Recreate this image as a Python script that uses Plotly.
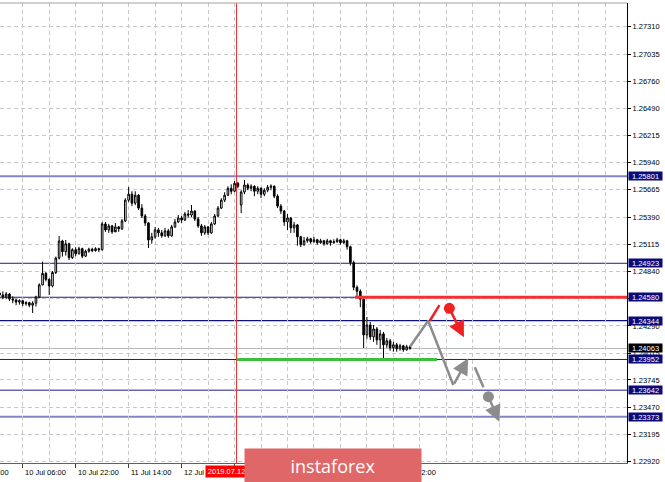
import plotly.graph_objects as go

# ---------------- data ----------------
bars = list(range(-7, 118))  # hourly bars, 0 = 10 Jul 06:00

opens = [1.24623, 1.24603, 1.24583, 1.24613, 1.24563, 1.24552, 1.24532,
         1.24545, 1.24515, 1.24525, 1.24500, 1.24520, 1.24583, 1.24705, 1.24820, 1.24760,
         1.24694, 1.24830, 1.24976, 1.25148, 1.25040, 1.25120, 1.24980, 1.25060, 1.25020,
         1.25070, 1.24995, 1.25045, 1.25065, 1.25050, 1.25070, 1.25060, 1.25320, 1.25260,
         1.25300, 1.25240, 1.25290, 1.25270, 1.25350, 1.25560, 1.25620, 1.25530, 1.25610,
         1.25480, 1.25400, 1.25330, 1.25158, 1.25190, 1.25260, 1.25230, 1.25200, 1.25250,
         1.25200, 1.25290, 1.25340, 1.25380, 1.25360, 1.25420, 1.25410, 1.25450, 1.25370,
         1.25300, 1.25230, 1.25290, 1.25230, 1.25320, 1.25400, 1.25480, 1.25560, 1.25610,
         1.25680, 1.25650, 1.25730, 1.25511, 1.25642, 1.25713, 1.25680, 1.25700, 1.25650,
         1.25680, 1.25620, 1.25660, 1.25690, 1.25700, 1.25600, 1.25500, 1.25450, 1.25340,
         1.25380, 1.25280, 1.25310, 1.25190, 1.25110, 1.25150, 1.25170, 1.25140, 1.25160,
         1.25130, 1.25150, 1.25120, 1.25150, 1.25130, 1.25140, 1.25160, 1.25130, 1.25150,
         1.25090, 1.24930, 1.24680, 1.24640, 1.24560, 1.24200, 1.24300, 1.24180, 1.24260,
         1.24150, 1.24210, 1.24100, 1.24140, 1.24070, 1.24100, 1.24060, 1.24090, 1.24050,
         1.24080]

highs = [1.24653, 1.24640, 1.24633, 1.24623, 1.24590, 1.24565, 1.24560,
         1.24550, 1.24540, 1.24535, 1.24540, 1.24595, 1.24720, 1.24939, 1.24835, 1.24770,
         1.24845, 1.24990, 1.25198, 1.25160, 1.25158, 1.25130, 1.25075, 1.25085, 1.25090,
         1.25080, 1.25060, 1.25080, 1.25080, 1.25085, 1.25080, 1.25340, 1.25340, 1.25320,
         1.25310, 1.25330, 1.25300, 1.25370, 1.25580, 1.25693, 1.25650, 1.25650, 1.25620,
         1.25520, 1.25420, 1.25340, 1.25230, 1.25290, 1.25280, 1.25260, 1.25280, 1.25270,
         1.25310, 1.25370, 1.25410, 1.25400, 1.25440, 1.25460, 1.25511, 1.25460, 1.25390,
         1.25320, 1.25310, 1.25300, 1.25340, 1.25420, 1.25500, 1.25580, 1.25640, 1.25700,
         1.25720, 1.25753, 1.25745, 1.25660, 1.25763, 1.25730, 1.25720, 1.25710, 1.25700,
         1.25690, 1.25680, 1.25713, 1.25720, 1.25710, 1.25620, 1.25520, 1.25460, 1.25420,
         1.25390, 1.25340, 1.25320, 1.25200, 1.25188, 1.25190, 1.25180, 1.25190, 1.25170,
         1.25170, 1.25160, 1.25170, 1.25160, 1.25165, 1.25180, 1.25170, 1.25170, 1.25160,
         1.25100, 1.24950, 1.24700, 1.24660, 1.24580, 1.24381, 1.24330, 1.24300, 1.24280,
         1.24250, 1.24230, 1.24170, 1.24160, 1.24130, 1.24120, 1.24110, 1.24100, 1.24100,
         1.24090]

lows = [1.24583, 1.24560, 1.24560, 1.24542, 1.24520, 1.24500, 1.24505,
        1.24490, 1.24495, 1.24480, 1.24421, 1.24485, 1.24570, 1.24700, 1.24740, 1.24603,
        1.24680, 1.24815, 1.24960, 1.24990, 1.25000, 1.24956, 1.24966, 1.24995, 1.25010,
        1.24975, 1.24985, 1.25030, 1.25035, 1.25040, 1.25035, 1.25050, 1.25240, 1.25230,
        1.25220, 1.25260, 1.25240, 1.25260, 1.25340, 1.25540, 1.25500, 1.25510, 1.25460,
        1.25380, 1.25300, 1.25077, 1.25120, 1.25170, 1.25190, 1.25180, 1.25190, 1.25180,
        1.25190, 1.25280, 1.25330, 1.25330, 1.25350, 1.25380, 1.25390, 1.25350, 1.25280,
        1.25200, 1.25210, 1.25208, 1.25220, 1.25310, 1.25390, 1.25470, 1.25540, 1.25600,
        1.25620, 1.25640, 1.25680, 1.25430, 1.25620, 1.25660, 1.25650, 1.25600, 1.25620,
        1.25582, 1.25600, 1.25640, 1.25660, 1.25580, 1.25480, 1.25420, 1.25300, 1.25260,
        1.25229, 1.25230, 1.25100, 1.25087, 1.25100, 1.25130, 1.25120, 1.25130, 1.25110,
        1.25120, 1.25100, 1.25110, 1.25100, 1.25120, 1.25130, 1.25110, 1.25120, 1.25060,
        1.24900, 1.24650, 1.24590, 1.24480, 1.24068, 1.24160, 1.24150, 1.24130, 1.24100,
        1.24060, 1.23947, 1.24070, 1.24040, 1.24030, 1.24030, 1.24040, 1.24030, 1.24040,
        1.24050]

closes = [1.24603, 1.24583, 1.24613, 1.24563, 1.24552, 1.24532, 1.24545,
          1.24515, 1.24525, 1.24500, 1.24520, 1.24583, 1.24705, 1.24820, 1.24760, 1.24694,
          1.24830, 1.24976, 1.25148, 1.25040, 1.25120, 1.24980, 1.25060, 1.25020, 1.25070,
          1.24995, 1.25045, 1.25065, 1.25050, 1.25070, 1.25060, 1.25320, 1.25260, 1.25300,
          1.25240, 1.25290, 1.25270, 1.25350, 1.25560, 1.25620, 1.25530, 1.25610, 1.25480,
          1.25400, 1.25330, 1.25158, 1.25190, 1.25260, 1.25230, 1.25200, 1.25250, 1.25200,
          1.25290, 1.25340, 1.25380, 1.25360, 1.25420, 1.25410, 1.25450, 1.25370, 1.25300,
          1.25230, 1.25290, 1.25230, 1.25320, 1.25400, 1.25480, 1.25560, 1.25610, 1.25680,
          1.25650, 1.25730, 1.25700, 1.25642, 1.25713, 1.25680, 1.25700, 1.25650, 1.25680,
          1.25620, 1.25660, 1.25690, 1.25700, 1.25600, 1.25500, 1.25450, 1.25340, 1.25380,
          1.25280, 1.25310, 1.25190, 1.25110, 1.25150, 1.25170, 1.25140, 1.25160, 1.25130,
          1.25150, 1.25120, 1.25150, 1.25130, 1.25140, 1.25160, 1.25130, 1.25150, 1.25090,
          1.24930, 1.24680, 1.24640, 1.24560, 1.24200, 1.24300, 1.24180, 1.24260, 1.24150,
          1.24210, 1.24100, 1.24140, 1.24070, 1.24100, 1.24060, 1.24090, 1.24050, 1.24080,
          1.24063]

price_ticks = [1.27310, 1.27035, 1.26760, 1.26490, 1.26215, 1.25940, 1.25665, 1.25390,
               1.25115, 1.24840, 1.24565, 1.24290, 1.24015, 1.23745, 1.23470, 1.23195, 1.22920]

time_tick_bars = [-16, 0, 16, 32, 48, 64, 80, 96, 112]
time_tick_labels = ["9 Jul 14:00", "10 Jul 06:00", "10 Jul 22:00", "11 Jul 14:00",
                    "12 Jul 06:00", "12 Jul 22:00", "15 Jul 14:00", "16 Jul 06:00", "16 Jul 22:00"]
grid_bars = list(range(-8, 184, 8))

level_prices = [1.25801, 1.24923, 1.24580, 1.24344, 1.23952, 1.23642, 1.23373]
level_colors = ["#8484c4", "#1c1c8c", "#1c1c8c", "#10107c", "#1c1c8c", "#1c1c8c", "#8484c4"]
level_widths = [2, 1, 1, 1.3, 1, 1, 2]
bid_price = 1.24063

marker_bar = 64.6
marker_label = "2019.07.12 22:00"

resistance = {"price": 1.24580, "start": 100.4}
support = {"price": 1.23952, "start": 64.7, "end": 125.2}

path_x = [117.0, 122.5, 130.1]
path_y = [1.24081, 1.24343, 1.23694]
path_tip = (134.6, 1.23964)
stop_x = [123.0, 125.9]
stop_y = [1.24343, 1.24501]
sell_dot = (128.9, 1.24468)
sell_tip = (133.3, 1.24175)
alt_dash_x = [136.6, 139.2]
alt_dash_y = [1.23873, 1.23671]
alt_dot = (140.7, 1.23576)
alt_tip = (144.0, 1.23324)

# ---------------- figure ----------------
X0, X1 = -6.86, 182.57
Y0, Y1 = 1.22907, 1.27550
PLOT_W = 627
PX_PER_BAR = PLOT_W / (X1 - X0)
GRID = "#c8c8c8"
FONT = "Liberation Sans, Arial, sans-serif"

fig = go.Figure()

fig.add_trace(go.Candlestick(
    x=bars, open=opens, high=highs, low=lows, close=closes,
    increasing=dict(line=dict(color="black", width=1), fillcolor="white"),
    decreasing=dict(line=dict(color="black", width=1), fillcolor="black"),
    whiskerwidth=0, hoverinfo="skip", showlegend=False))

# forecast scheme
fig.add_trace(go.Scatter(x=path_x, y=path_y, mode="lines",
                         line=dict(color="#8c8c8c", width=2.5), hoverinfo="skip"))
fig.add_trace(go.Scatter(x=stop_x, y=stop_y, mode="lines",
                         line=dict(color="#ee2222", width=2.5), hoverinfo="skip"))
fig.add_trace(go.Scatter(x=alt_dash_x, y=alt_dash_y, mode="lines",
                         line=dict(color="#8c8c8c", width=2.5), hoverinfo="skip"))
fig.add_trace(go.Scatter(x=[sell_dot[0]], y=[sell_dot[1]], mode="markers",
                         marker=dict(color="#ee2222", size=11), hoverinfo="skip"))
fig.add_trace(go.Scatter(x=[alt_dot[0]], y=[alt_dot[1]], mode="markers",
                         marker=dict(color="#8c8c8c", size=11), hoverinfo="skip"))

shapes = []
for p, c, w in zip(level_prices, level_colors, level_widths):
    shapes.append(dict(type="line", xref="paper", x0=0, x1=1, yref="y", y0=p, y1=p,
                       line=dict(color=c, width=w), layer="below"))
shapes.append(dict(type="line", xref="paper", x0=0, x1=1, yref="y", y0=bid_price, y1=bid_price,
                   line=dict(color="#b8b8b8", width=1), layer="below"))
shapes.append(dict(type="line", xref="x", x0=marker_bar, x1=marker_bar, yref="paper", y0=0, y1=1,
                   line=dict(color="#f03030", width=1), layer="below"))
shapes.append(dict(type="line", xref="x", x0=resistance["start"], x1=X1, yref="y",
                   y0=resistance["price"], y1=resistance["price"],
                   line=dict(color="#f43030", width=3), layer="above"))
shapes.append(dict(type="line", xref="x", x0=support["start"], x1=support["end"], yref="y",
                   y0=support["price"], y1=support["price"],
                   line=dict(color="#3cc03c", width=3), layer="above"))
shapes.append(dict(type="line", xref="paper", x0=0, x1=1, yref="paper", y0=1, y1=1,
                   line=dict(color="#a0a0a0", width=1)))

annotations = []
# arrows
for (tx, ty), (sx, sy), col in [(path_tip, (path_x[-1], path_y[-1]), "#8c8c8c"),
                                (sell_tip, sell_dot, "#ee2222"),
                                (alt_tip, alt_dot, "#8c8c8c")]:
    annotations.append(dict(x=tx, y=ty, ax=sx, ay=sy, xref="x", yref="y", axref="x", ayref="y",
                            text="", showarrow=True, arrowhead=2, arrowsize=1.3,
                            arrowwidth=2.5, arrowcolor=col, standoff=0, startstandoff=0))

# time labels (left-aligned at tick, MT4 style); labels left of the range are anchored
# at the range start and shifted so only their tail shows
for b, t in zip(time_tick_bars, time_tick_labels):
    if b < X0:
        ax_x, shift = X0, (b - X0) * PX_PER_BAR
    else:
        ax_x, shift = b, 0
    annotations.append(dict(x=ax_x, xshift=shift, y=-0.0196, xref="x", yref="paper", text=t,
                            showarrow=False, xanchor="left", yanchor="middle",
                            font=dict(family=FONT, size=7.5, color="black")))

# price boxes on the scale
for p in level_prices:
    annotations.append(dict(x=628 / 627, y=p, xref="paper", yref="y", text=f"{p:.5f}",
                            showarrow=False, xanchor="left", yanchor="middle",
                            bgcolor="#0a0a78", width=33, height=8, borderpad=0, align="center",
                            font=dict(family=FONT, size=7.5, color="white")))
annotations.append(dict(x=628 / 627, y=bid_price, xref="paper", yref="y", text=f"{bid_price:.5f}",
                        showarrow=False, xanchor="left", yanchor="middle",
                        bgcolor="black", width=33, height=8, borderpad=0, align="center",
                        font=dict(family=FONT, size=7.5, color="white")))

# vertical line date label
annotations.append(dict(x=marker_bar, y=-0.0174, xref="x", yref="paper", text=marker_label,
                        showarrow=False, xanchor="center", yanchor="middle",
                        bgcolor="#ff0000", width=62, height=11, borderpad=0,
                        font=dict(family=FONT, size=7.5, color="white")))
# logo
annotations.append(dict(x=333 / 627, y=(463 - 465.5) / 460, xref="paper", yref="paper",
                        text="instaforex", showarrow=False, xanchor="center", yanchor="middle",
                        bgcolor="#e06767", width=176, height=33, borderpad=0,
                        font=dict(family="Open Sans, sans-serif", size=18, color="white")))

fig.update_layout(
    width=665, height=482, margin=dict(l=0, r=38, t=3, b=19),
    plot_bgcolor="white", paper_bgcolor="white", showlegend=False,
    shapes=shapes, annotations=annotations,
    xaxis=dict(range=[X0, X1], rangeslider=dict(visible=False), showgrid=False,
               tickvals=time_tick_bars, showticklabels=False, ticks="outside", ticklen=4,
               tickcolor="#404040", showline=True, linecolor="#606060", linewidth=1, zeroline=False,
               minor=dict(tickvals=grid_bars, showgrid=True, gridcolor=GRID,
                          griddash="4px,3px", gridwidth=1, ticks="")),
    yaxis=dict(range=[Y0, Y1], side="right", tickvals=price_ticks,
               ticktext=[f"{v:.5f}" for v in price_ticks], showgrid=True, gridcolor=GRID,
               griddash="4px,3px", gridwidth=1, ticks="outside", ticklen=3, tickcolor="black",
               tickfont=dict(family=FONT, size=7.5, color="black"),
               showline=True, linecolor="black", linewidth=1, zeroline=False),
)

fig.write_html("out.html", config={"displayModeBar": False},
               post_script="document.body.style.margin='0';document.body.style.padding='0';")
